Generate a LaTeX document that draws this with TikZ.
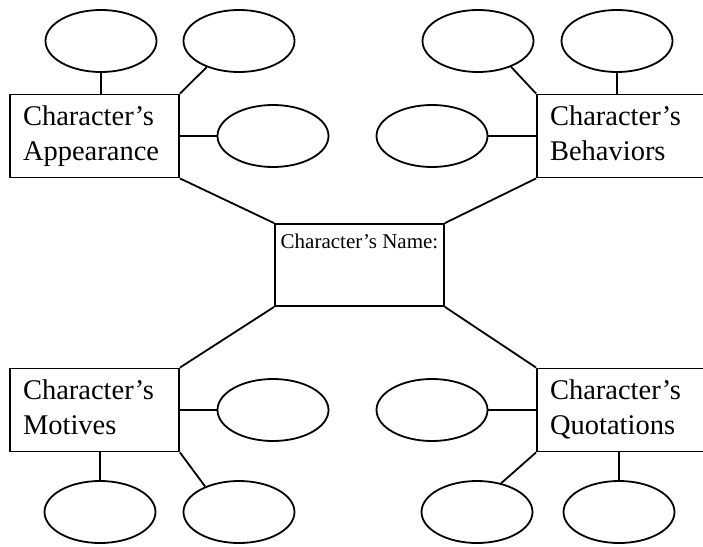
\documentclass[tikz,border=0pt]{standalone}
\usepackage{fontspec}
\setmainfont{Liberation Serif}
\usepackage{tikz}
\usetikzlibrary{shapes.geometric,positioning,calc}

\begin{document}
\begin{tikzpicture}[x=1pt, y=-1pt, line width=1.8pt,
  topic/.style={draw, rectangle, minimum width=169pt, minimum height=83pt,
    inner xsep=13pt, text width=143pt, align=left,
    font=\fontsize{28.5}{35}\selectfont},
  blob/.style={draw, ellipse, minimum width=111pt, minimum height=62pt, inner sep=0pt},
  namebox/.style={draw, rectangle, minimum width=169pt, minimum height=82pt}]
  \clip (0,0) rectangle (703,546);
  \fill[white] (0,0) rectangle (703,546);

  % Centre box
  \node[namebox, label={[anchor=base, yshift=-25pt, font=\fontsize{21}{25}\selectfont]north:Character’s Name:}] (name) at (359.5,265) {};

  % Topic boxes
  \node[topic] (app) at (94.5,136) {Character’s\strut\\Appearance\strut};
  \node[topic] (beh) at (621.5,136) {Character’s\strut\\Behaviors\strut};
  \node[topic] (mot) at (94.5,410) {Character’s\strut\\Motives\strut};
  \node[topic] (quo) at (621.5,410) {Character’s\strut\\Quotations\strut};

  % Empty ellipses
  \node[blob] (a1) at (101,41) {};
  \node[blob] (a2) at (239,41) {};
  \node[blob] (a3) at (273,136) {};
  \node[blob] (b1) at (478,41) {};
  \node[blob] (b2) at (617,41) {};
  \node[blob] (b3) at (432,136) {};
  \node[blob] (m1) at (100,512) {};
  \node[blob] (m2) at (239,512) {};
  \node[blob] (m3) at (273,410) {};
  \node[blob] (q1) at (477,512) {};
  \node[blob] (q2) at (619,512) {};
  \node[blob] (q3) at (432,410) {};

  % Boxes to centre
  \draw (app.south east) -- (name.north west);
  \draw (beh.south west) -- (name.north east);
  \draw (mot.north east) -- (name.south west);
  \draw (quo.north west) -- (name.south east);

  % Ellipses to boxes
  \draw (a1.south) -- (a1.south |- app.north);
  \draw (a2.219) -- (app.north east);
  \draw (app) -- (a3);
  \draw (b1.322) -- (beh.north west);
  \draw (b2.south) -- (b2.south |- beh.north);
  \draw (beh) -- (b3);
  \draw (m1.north) -- (m1.north |- mot.south);
  \draw (m2.143) -- (mot.south east);
  \draw (mot) -- (m3);
  \draw (q1.50) -- (quo.south west);
  \draw (q2.north) -- (q2.north |- quo.south);
  \draw (quo) -- (q3);
\end{tikzpicture}
\end{document}
